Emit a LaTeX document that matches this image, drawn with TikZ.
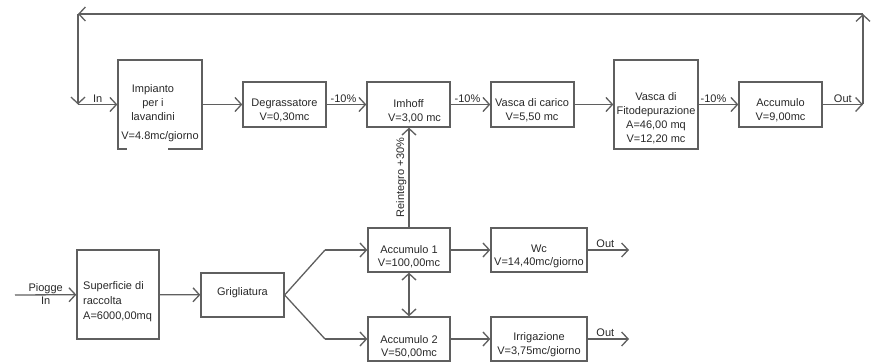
\documentclass[tikz,border=0pt]{standalone}
\usepackage{fontspec}
\setmainfont{Liberation Sans}
\usetikzlibrary{arrows.meta}
\definecolor{linecol}{RGB}{95,95,95}
\definecolor{txtcol}{RGB}{40,40,40}
\newcommand{\fs}{\fontsize{11}{14}\selectfont}
\tikzset{
  box/.style={draw=linecol, line width=1.3pt, rectangle, inner sep=0pt},
  txt/.style={font=\fs, text=txtcol, align=center, inner sep=0pt},
  lbl/.style={font=\fs, text=txtcol, inner sep=1.5pt},
  conn/.style={draw=linecol, line width=1.3pt, -{Straight Barb[length=6.5pt,width=14pt]}},
  plain/.style={draw=linecol, line width=1.3pt},
}
\begin{document}
\begin{tikzpicture}[x=1pt,y=-1pt]
\useasboundingbox (0,0) rectangle (871,363);
% top row boxes
\node[box, minimum width=84pt, minimum height=89pt] (imp) at (160,104.5) {};
\node[box, minimum width=83pt, minimum height=45pt] (deg) at (284.5,104.5) {};
\node[box, minimum width=83pt, minimum height=45pt] (imh) at (408.5,104.5) {};
\node[box, minimum width=83pt, minimum height=45pt] (vdc) at (532.5,104.5) {};
\node[box, minimum width=84pt, minimum height=89pt] (fito) at (656,104.5) {};
\node[box, minimum width=83pt, minimum height=45pt] (acc) at (780.5,104.5) {};
% bottom boxes
\node[box, minimum width=82pt, minimum height=89pt] (sup) at (118,294.5) {};
\node[box, minimum width=83pt, minimum height=44pt] (gri) at (242.5,295) {};
\node[box, minimum width=82pt, minimum height=44pt] (acc1) at (409,250) {};
\node[box, minimum width=82pt, minimum height=44pt] (acc2) at (409,339) {};
\node[box, minimum width=96pt, minimum height=44pt] (wc) at (539,250) {};
\node[box, minimum width=96pt, minimum height=44pt] (irr) at (539,339) {};
% gap in the bottom edge of the first box
\fill[white] (127,147) rectangle (168,151);
% texts in boxes
\node[txt] (impT) at (153,103) {Impianto\\per i\\lavandini};
\node[txt] (impV) at (160,137) {V=4.8mc/giorno};
\node[txt] (degT) at (284.5,110) {Degrassatore\\V=0,30mc};
\node[txt] (imhT) at (408.5,111) {Imhoff\\\hspace*{12pt}V=3,00 mc};
\node[txt] (vdcT) at (532,110) {Vasca di carico\\V=5,50 mc};
\node[txt, font=\fontsize{11}{14}\selectfont] (fitoT) at (656,118) {Vasca di\\Fitodepurazione\\A=46,00 mq\\V=12,20 mc};
\node[txt] (accT) at (780.5,110) {Accumulo\\V=9,00mc};
\node[txt, align=left, font=\fontsize{11}{15}\selectfont, anchor=west] (supT) at (83,302) {Superficie di\\raccolta\\A=6000,00mq};
\node[txt] (griT) at (242.5,293) {Grigliatura};
\node[txt, font=\fontsize{11}{13}\selectfont] (acc1T) at (409,256.5) {Accumulo 1\\V=100,00mc};
\node[txt, font=\fontsize{11}{13}\selectfont] (acc2T) at (409,347) {Accumulo 2\\V=50,00mc};
\node[txt, font=\fontsize{11}{13}\selectfont] (wcT) at (539,256.5) {Wc\\V=14,40mc/giorno};
\node[txt, font=\fontsize{11}{14}\selectfont] (irrT) at (539,345) {Irrigazione\\V=3,75mc/giorno};
% free coordinates
\coordinate (inL) at (78,104.5);
\coordinate (topL) at (78,14);
\coordinate (topR) at (863,14);
\coordinate (outR) at (863,104.5);
\coordinate (pio) at (15,295);
\coordinate (s1) at (325,250);
\coordinate (s2) at (325,339);
\coordinate (o1) at (629,250);
\coordinate (o2) at (629,339);
% top chain
\draw[conn] (inL) -- node[lbl, above] {In} (imp);
\draw[conn] (imp) -- (deg);
\draw[conn] (deg) -- node[lbl, above, xshift=-3pt] {-10\%} (imh);
\draw[conn] (imh) -- node[lbl, above, xshift=-3pt] {-10\%} (vdc);
\draw[conn] (vdc) -- (fito);
\draw[conn] (fito) -- node[lbl, above, xshift=-5pt] {-10\%} (acc);
\draw[conn] (acc) -- node[lbl, above] {Out} (outR);
\draw[conn] (outR) -- (topR);
\draw[conn] (topR) -- (topL);
\draw[conn] (topL) -- (inL);
% bottom chain
\draw[conn] (pio) -- node[lbl, above, inner sep=0.5pt] {Piogge} node[lbl, below, inner sep=1pt] {In} (sup);
\draw[conn] (sup) -- (gri);
\draw[plain] (gri.east) -- (s1);
\draw[plain] (gri.east) -- (s2);
\draw[conn] (s1) -- (acc1);
\draw[conn] (s2) -- (acc2);
\draw[conn] (acc1) -- (wc);
\draw[conn] (acc2) -- (irr);
\draw[conn] (wc) -- node[lbl, above, xshift=-3pt] {Out} (o1);
\draw[conn] (irr) -- node[lbl, above, xshift=-3pt] {Out} (o2);
\draw[conn, {Straight Barb[length=6.5pt,width=14pt]}-{Straight Barb[length=6.5pt,width=14pt]}] (acc1) -- (acc2);
\draw[conn] (acc1.north) -- node[lbl, midway, rotate=90, anchor=south, inner sep=2pt] {Reintegro +30\%} (acc1.north |- imh.south);
\end{tikzpicture}
\end{document}
